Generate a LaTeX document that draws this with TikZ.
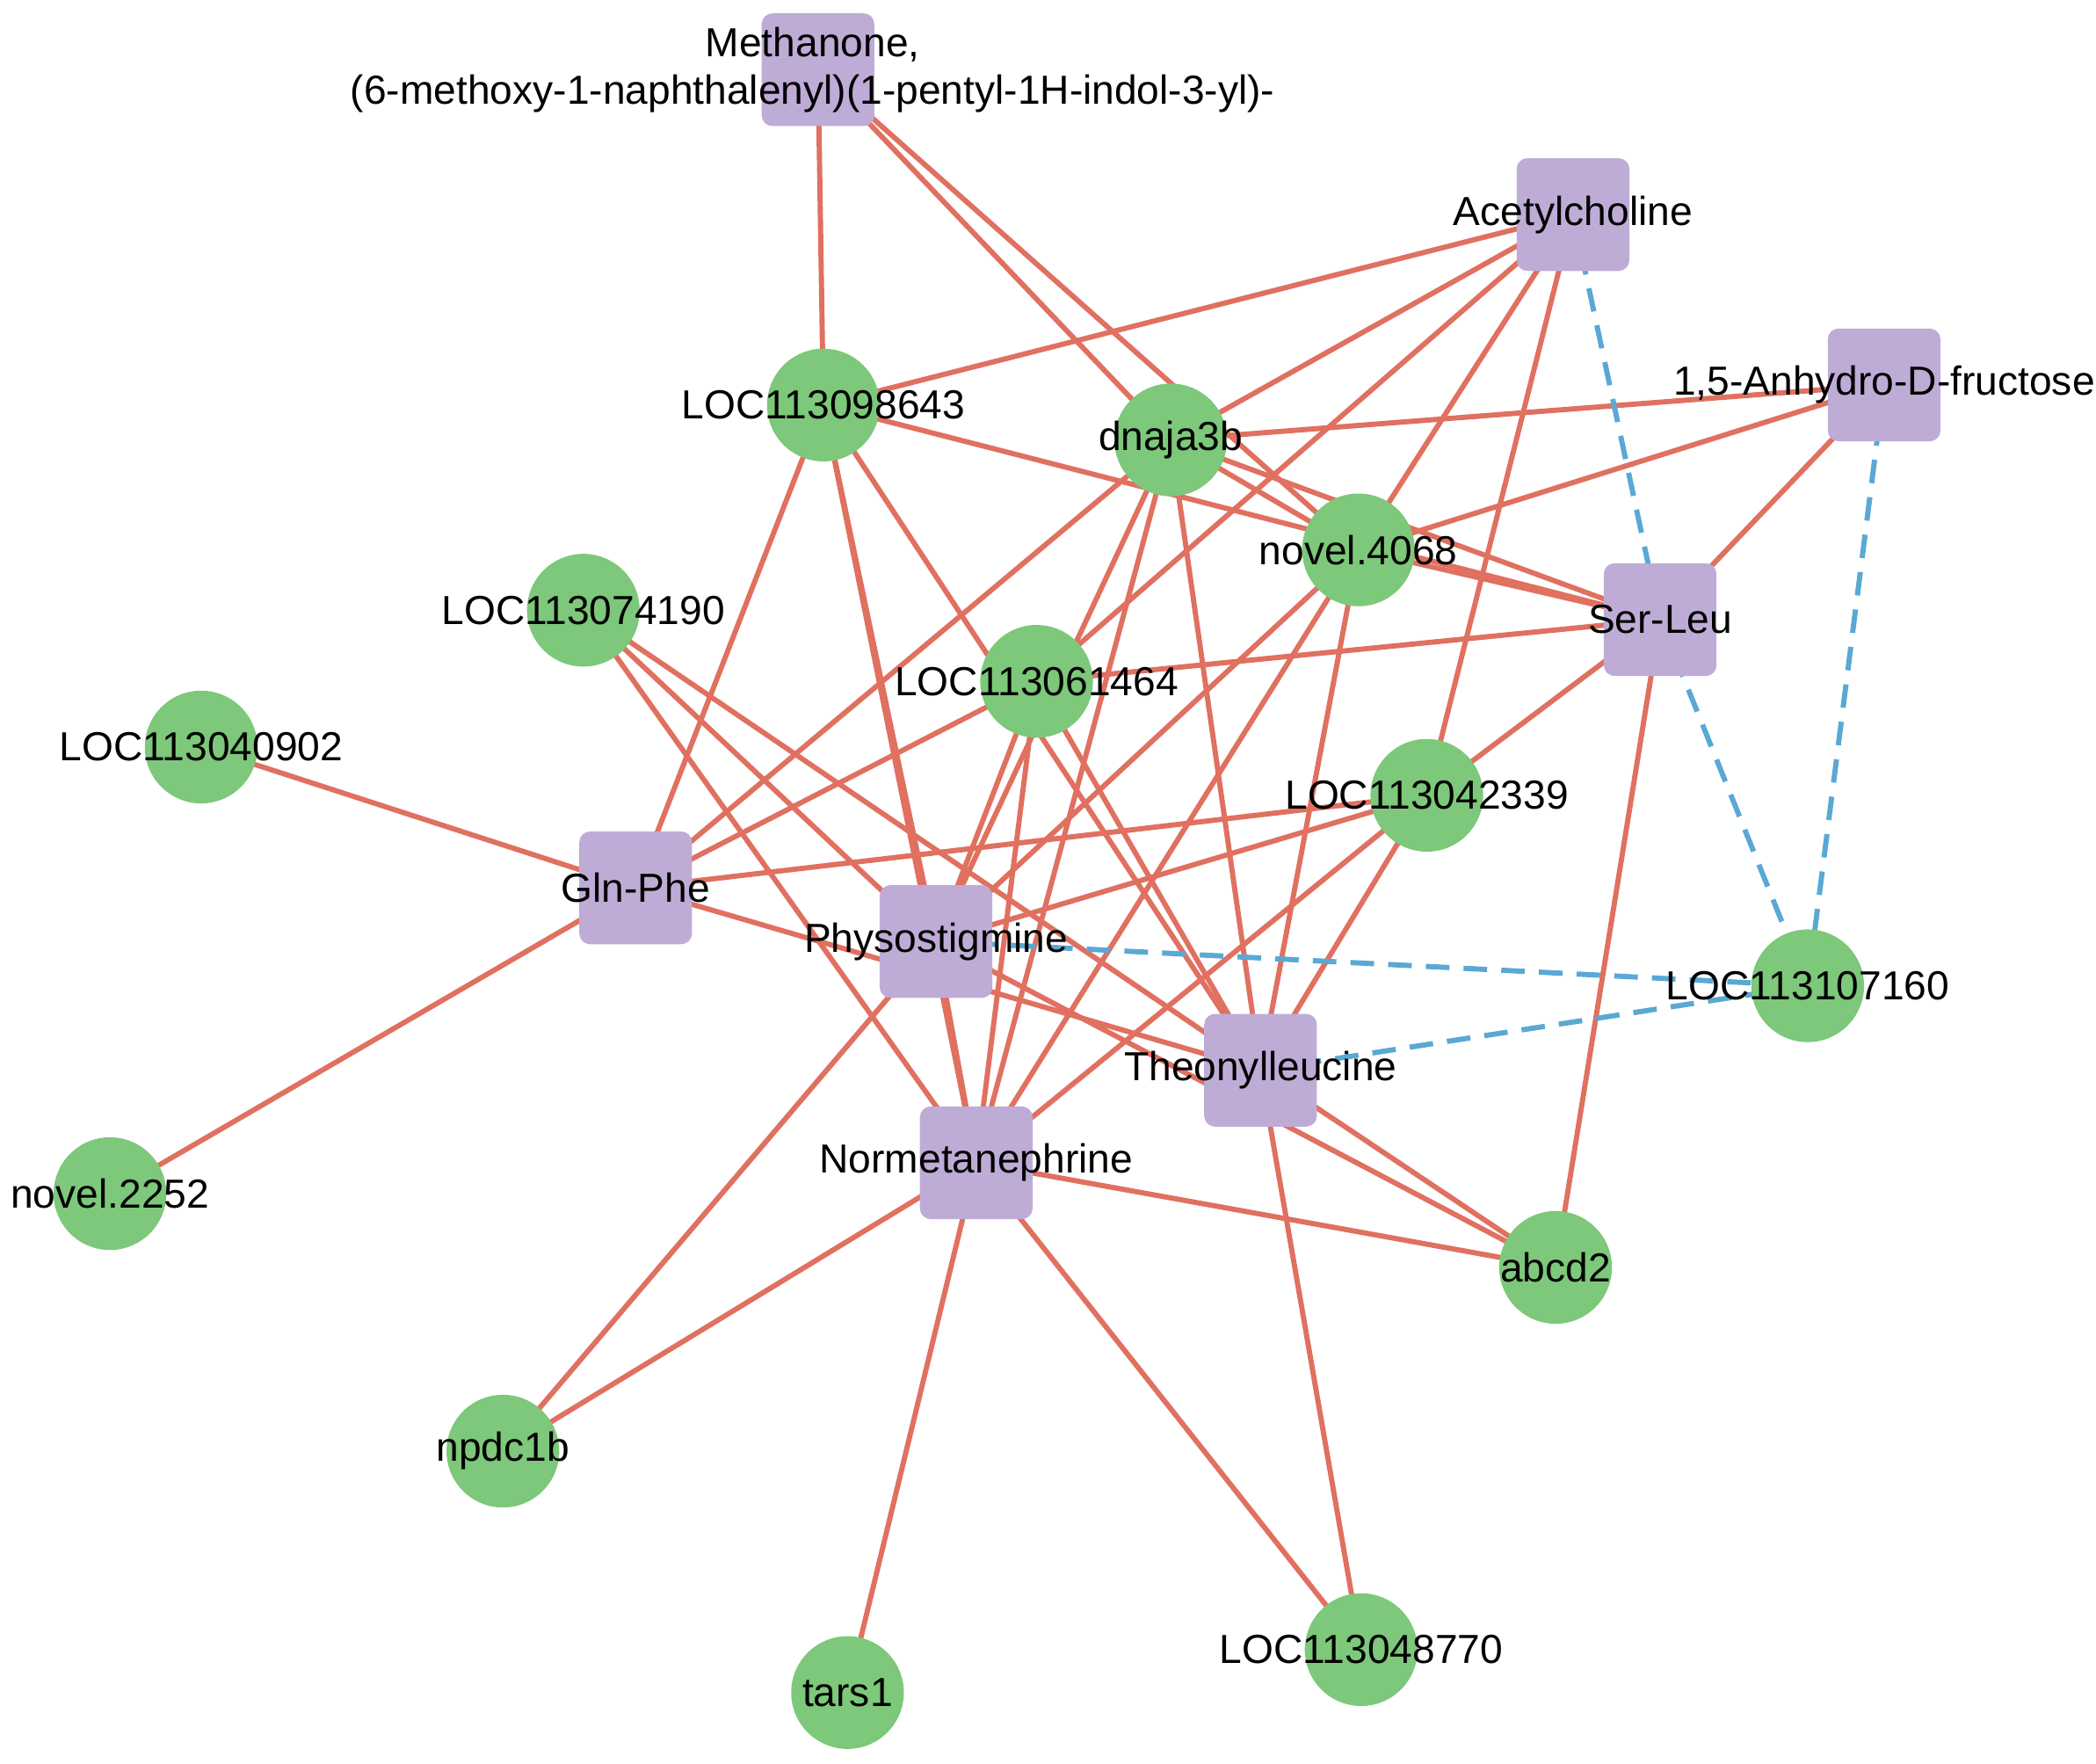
\documentclass[tikz,border=0pt]{standalone}
\usepackage{fontspec}
\setmainfont{Liberation Sans}
\usetikzlibrary{backgrounds}
\definecolor{ered}{RGB}{224,112,96}
\definecolor{eblue}{RGB}{90,168,212}
\definecolor{ngreen}{RGB}{125,200,122}
\definecolor{npurp}{RGB}{190,172,214}
\begin{document}
\begin{tikzpicture}[x=0.01cm,y=-0.01cm,
 gene/.style={circle,fill=ngreen,minimum size=0.84cm,inner sep=0pt},
 met/.style={rectangle,rounded corners=0.08cm,fill=npurp,minimum size=0.84cm,inner sep=0pt},
 lab/.style={font=\fontsize{8.6pt}{10pt}\selectfont,inner sep=0pt,align=center},
 r/.style={draw=ered,line width=1.1pt},
 b/.style={draw=eblue,line width=1.1pt,dash pattern=on 5pt off 3pt}]
\useasboundingbox (0,0) rectangle (1563,1315);
% metabolites
\node[met] (meth) at (610,52) {};
\node[met] (acet) at (1173,160) {};
\node[met] (anh) at (1405,287) {};
\node[met] (ser) at (1238,462) {};
\node[met] (gln) at (474,662) {};
\node[met] (phy) at (698,702) {};
\node[met] (the) at (940,798) {};
\node[met] (nor) at (728,867) {};
% genes
\node[gene] (g643) at (614,302) {};
\node[gene] (dna) at (873,328) {};
\node[gene] (n4068) at (1013,410) {};
\node[gene] (g190) at (435,455) {};
\node[gene] (g464) at (773,508) {};
\node[gene] (g902) at (150,557) {};
\node[gene] (g339) at (1064,593) {};
\node[gene] (g160) at (1348,735) {};
\node[gene] (n2252) at (82,890) {};
\node[gene] (abcd) at (1160,945) {};
\node[gene] (npdc) at (375,1082) {};
\node[gene] (tars) at (632,1262) {};
\node[gene] (g770) at (1015,1230) {};
\begin{scope}[on background layer]
\foreach \a/\b in {meth/g643,meth/dna,meth/n4068,
 acet/g643,acet/dna,acet/n4068,acet/g464,acet/g339,
 anh/dna,anh/n4068,anh/ser,
 g643/ser,g643/gln,g643/phy,g643/nor,g643/the,
 dna/gln,dna/nor,dna/phy,dna/the,dna/n4068,dna/ser,
 n4068/ser,n4068/nor,n4068/the,n4068/phy,
 g190/phy,g190/the,g190/nor,
 g464/ser,g464/gln,g464/nor,g464/the,g464/phy,
 g902/gln,
 g339/ser,g339/gln,g339/the,g339/nor,g339/phy,
 gln/n2252,gln/the,
 phy/npdc,phy/nor,phy/abcd,
 the/abcd,the/g770,
 nor/abcd,nor/npdc,nor/tars,nor/g770,
 ser/abcd}
 \draw[r] (\a.center) -- (\b.center);
\foreach \a/\b in {acet/ser,anh/g160,ser/g160,phy/g160,the/g160}
 \draw[b] (\a.center) -- (\b.center);
\end{scope}
% labels
\node[lab] at (606,52) {Methanone,\\(6-methoxy-1-naphthalenyl)(1-pentyl-1H-indol-3-yl)-};
\node[lab] at (1173,160) {Acetylcholine};
\node[lab] at (1405,287) {1,5-Anhydro-D-fructose};
\node[lab] at (1238,462) {Ser-Leu};
\node[lab] at (474,662) {Gln-Phe};
\node[lab] at (698,702) {Physostigmine};
\node[lab] at (940,798) {Theonylleucine};
\node[lab] at (728,867) {Normetanephrine};
\node[lab] at (614,302) {LOC113098643};
\node[lab] at (873,328) {dnaja3b};
\node[lab] at (1013,410) {novel.4068};
\node[lab] at (435,455) {LOC113074190};
\node[lab] at (773,508) {LOC113061464};
\node[lab] at (150,557) {LOC113040902};
\node[lab] at (1064,593) {LOC113042339};
\node[lab] at (1348,735) {LOC113107160};
\node[lab] at (82,890) {novel.2252};
\node[lab] at (1160,945) {abcd2};
\node[lab] at (375,1082) {npdc1b};
\node[lab] at (632,1262) {tars1};
\node[lab] at (1015,1230) {LOC113048770};
\end{tikzpicture}
\end{document}
